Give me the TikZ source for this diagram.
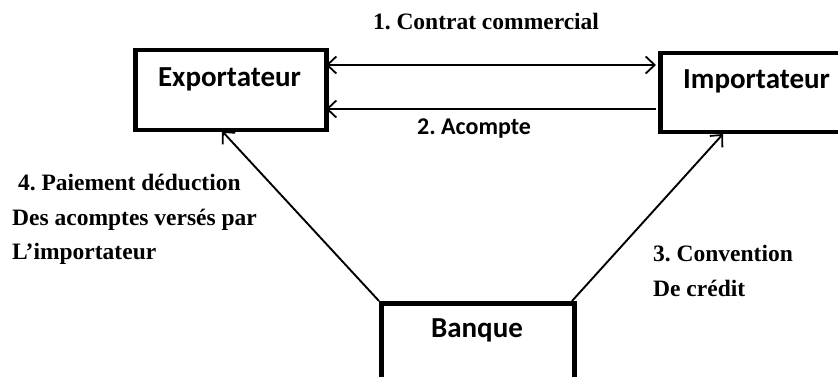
\documentclass[tikz,border=0pt]{standalone}
\usepackage{fontspec}
\setmainfont{Liberation Serif}
\newfontfamily\calib{Carlito}
\usetikzlibrary{arrows.meta}
\frenchspacing
\begin{document}
\begin{tikzpicture}[x=1pt,y=-1pt,
  boxst/.style={draw,line width=4.5pt,inner sep=0pt},
  boxtxt/.style={font=\calib\bfseries\fontsize{29}{32}\selectfont,inner sep=0pt},
  tip/.tip={Straight Barb[length=9pt,width=17pt,line width=1.8pt]},
  conn/.style={line width=1.9pt,-tip},
  lbl/.style={font=\bfseries\fontsize{23.5}{34.5}\selectfont,align=left,inner sep=0pt,anchor=north west}]
\useasboundingbox (0,0) rectangle (838,377);
\node[boxst,minimum width=191pt,minimum height=80pt,anchor=north west] (exp) at (133,48) {};
\node[boxtxt] (expt) at (229.5,79) {Exportateur};
\node[boxst,minimum width=200pt,minimum height=79pt,anchor=north west] (imp) at (658,51) {};
\node[boxtxt,anchor=west] (impt) at (683,81) {Importateur};
\node[boxst,minimum width=193pt,minimum height=100pt,anchor=north west] (ban) at (379,301) {};
\node[boxtxt] (bant) at (477,330) {Banque};
\coordinate (e1) at (326,65);
\coordinate (i1) at (656,65);
\coordinate (e2) at (326,109);
\coordinate (i2) at (656,109);
\draw[conn,tip-tip] (e1) -- (i1);
\draw[conn] (i2) -- (e2);
\coordinate (b1) at (379,301);
\coordinate (b2) at (572,301);
\coordinate (e3) at (222,131);
\coordinate (i3) at (723,134);
\draw[conn] (b1) -- (e3);
\draw[conn] (b2) -- (i3);
\node[font=\bfseries\fontsize{23.5}{26}\selectfont] (l1) at (486,22) {1. Contrat commercial};
\node[font=\calib\bfseries\fontsize{24}{26}\selectfont] (l2) at (474,129) {2. Acompte};
\node[lbl] (l4) at (12,174) {\ 4. Paiement déduction\\Des acomptes versés par\\L’importateur};
\node[lbl] (l3) at (653,245) {3. Convention\\De crédit};
\end{tikzpicture}
\end{document}
